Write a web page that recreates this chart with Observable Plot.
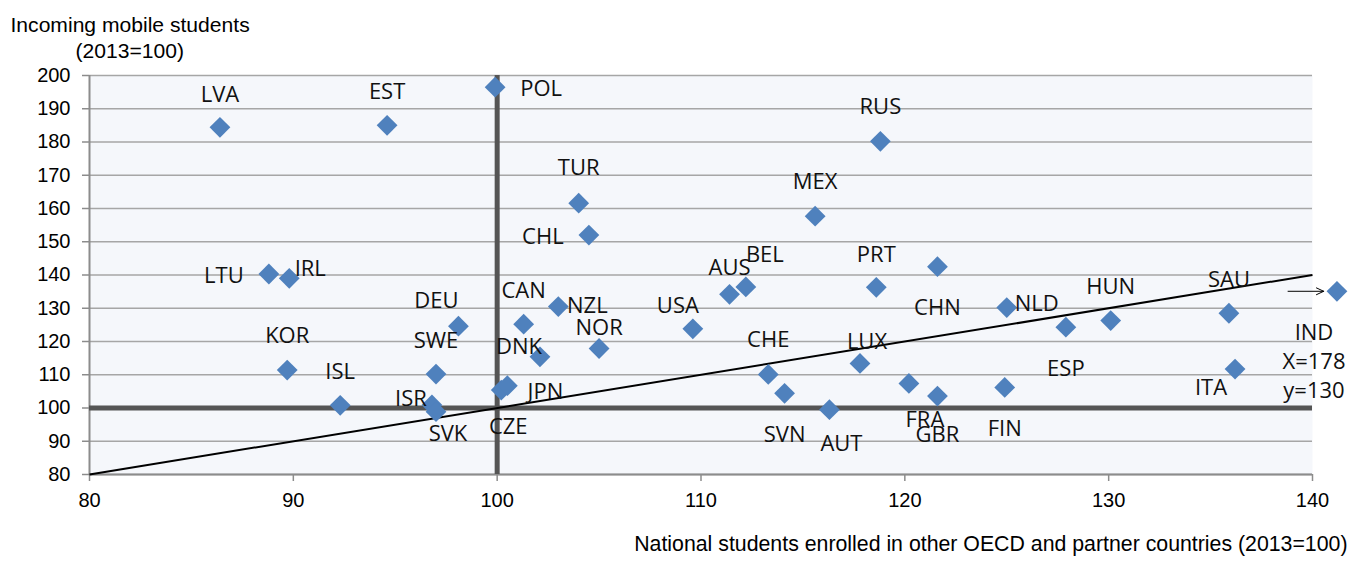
<!DOCTYPE html>
<html>
<head>
<meta charset="utf-8">
<script src="https://cdn.jsdelivr.net/npm/d3@7"></script>
<script src="https://cdn.jsdelivr.net/npm/@observablehq/plot@0.6"></script>
<style>
  html, body { margin: 0; padding: 0; background: #ffffff; }
  #chart { width: 1363px; height: 563px; }
</style>
</head>
<body>
<div id="chart"></div>
<script>
// ---- Data ----
const countries = ["LVA","EST","POL","RUS","TUR","MEX","CHL","LTU","IRL","AUS","BEL","PRT","CHN","NLD","HUN","SAU","IND","DEU","CAN","NZL","USA","NOR","DNK","KOR","SWE","ISL","ISR","SVK","CZE","JPN","CHE","SVN","AUT","LUX","FRA","GBR","FIN","ESP","ITA"];
const nationalAbroad = [86.4,94.6,99.9,118.8,104.0,115.6,104.5,88.8,89.8,111.4,112.2,118.6,121.6,125.0,130.1,135.9,141.2,98.1,101.3,103.0,109.6,105.0,102.1,89.7,97.0,92.3,96.8,97.0,100.2,100.5,113.3,114.1,116.3,117.8,120.2,121.6,124.9,127.9,136.2];
const incomingMobile = [184.4,185.0,196.5,180.2,161.6,157.7,152.0,140.3,139.0,134.2,136.4,136.3,142.5,130.2,126.3,128.5,135.1,124.6,125.2,130.5,123.8,117.9,115.4,111.4,110.2,100.8,100.9,98.9,105.4,106.7,110.1,104.4,99.5,113.4,107.4,103.6,106.2,124.3,111.7];
const labelText = ["LVA","EST","POL","RUS","TUR","MEX","CHL","LTU","IRL","AUS","BEL","PRT","CHN","NLD","HUN","SAU","IND\nX=178\ny=130","DEU","CAN","NZL","USA","NOR","DNK","KOR","SWE","ISL","ISR","SVK","CZE","JPN","CHE","SVN","AUT","LUX","FRA","GBR","FIN","ESP","ITA"];
// label offsets (pixels) relative to each point
const labelDx = [0,0,46,0,0,0,-46,-45,21,0,19,0,0,30,0,0,-23,-22,0,29,-15,0,-21,0,0,0,-21,12,7,38,0,0,12,7,16,0,0,0,-24];
const labelDy = [-35,-36,0,-37,-37,-36,0,0,-12,-29,-34,-35,39,-6,-36,-36,68,-28,-36,-3,-25,-23,-12,-36,-35,-36,-8,20,35,4,-37,39,32,-24,34,37,39,40,17];

const xTicks = [80,90,100,110,120,130,140];
const yTicks = [80,90,100,110,120,130,140,150,160,170,180,190,200];
const referenceLine = [{x1: 80, y1: 80, x2: 140, y2: 140}];
const baseline = 100;
const indArrow = [{x1: 138.8, x2: 140.55, y: 135.1}];

const yTitle = "Incoming mobile students";
const yTitle2 = "(2013=100)";
const xTitle = "National students enrolled in other OECD and partner countries (2013=100)";

const rows = countries.map((c, i) => ({
  country: c, x: nationalAbroad[i], y: incomingMobile[i],
  label: labelText[i], dx: labelDx[i], dy: labelDy[i]
}));

const labelMarks = rows.map(d => Plot.text([d], {
  x: "x", y: "y", text: "label", dx: d.dx, dy: d.dy,
  fontFamily: "Open Sans", fontSize: 22, fill: "#111", lineHeight: 1.32
}));

const chart = Plot.plot({
  width: 1363,
  height: 563,
  marginLeft: 89,
  marginRight: 51,
  marginTop: 75,
  marginBottom: 89,
  style: {fontFamily: "Liberation Sans, Arial, sans-serif", fontSize: "20px", color: "#000", background: "#fff", overflow: "visible"},
  x: {domain: [80, 140], ticks: xTicks},
  y: {domain: [80, 200], ticks: yTicks},
  marks: [
    Plot.frame({fill: "#f5f7fb", stroke: null}),
    Plot.gridY(yTicks, {stroke: "#a6a6a6", strokeOpacity: 1, strokeWidth: 1.5}),
    Plot.ruleX([80], {stroke: "#8c8c8c", strokeWidth: 2}),
    Plot.ruleY([80], {stroke: "#8c8c8c", strokeWidth: 2}),
    Plot.axisY(yTicks, {tickSize: 7, tickPadding: 12, stroke: "#8c8c8c", strokeWidth: 1.5, fill: "#000", fontSize: 20, label: null}),
    Plot.axisX(xTicks, {tickSize: 7, tickPadding: 11, stroke: "#8c8c8c", strokeWidth: 1.5, fill: "#000", fontSize: 20, label: null}),
    Plot.ruleX([baseline], {stroke: "#555555", strokeWidth: 5}),
    Plot.ruleY([baseline], {stroke: "#555555", strokeWidth: 5}),
    Plot.link(referenceLine, {x1: "x1", y1: "y1", x2: "x2", y2: "y2", stroke: "#000", strokeWidth: 2}),
    Plot.dot(rows, {x: "x", y: "y", symbol: "square", rotate: 45, r: 8.3, fill: "#4f81bd", stroke: "none"}),
    ...labelMarks,
    Plot.arrow(indArrow, {x1: "x1", x2: "x2", y1: "y", y2: "y", bend: 0, stroke: "#000", strokeWidth: 1, headLength: 12, headAngle: 50}),
    Plot.text([yTitle], {frameAnchor: "top-left", dx: -79, dy: -58, textAnchor: "start", fontSize: 21.1, fill: "#000"}),
    Plot.text([yTitle2], {frameAnchor: "top-left", dx: -14, dy: -32, textAnchor: "start", fontSize: 21.1, fill: "#000"}),
    Plot.text([xTitle], {frameAnchor: "bottom-right", dx: 35, dy: 76, textAnchor: "end", fontSize: 21.3, fill: "#000"})
  ]
});
document.getElementById("chart").appendChild(chart);
</script>
</body>
</html>
